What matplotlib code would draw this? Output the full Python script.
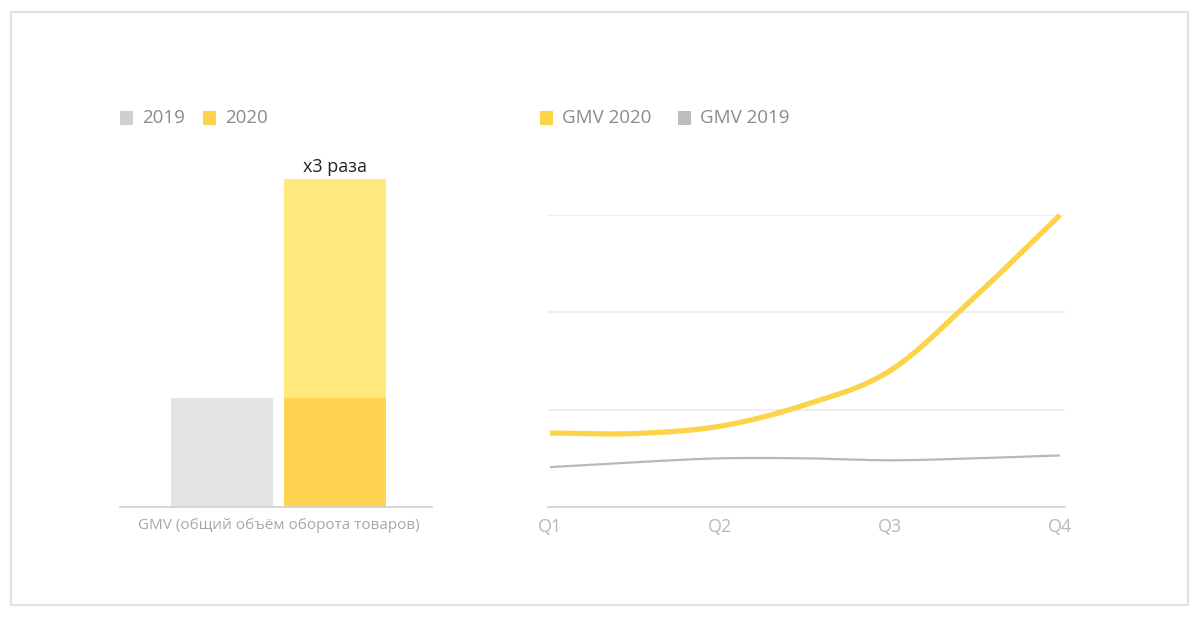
import numpy as np
import matplotlib
matplotlib.use("Agg")
import matplotlib.pyplot as plt
from matplotlib.patches import Rectangle

plt.rcParams['font.family'] = ['Open Sans', 'DejaVu Sans']

# left panel: GMV by year (2019 = 1)
bar_years = ['2019', '2020']
gmv_2019_total = 1.0
gmv_2020_total = 3.0
bar_label = 'x3 раза'
bar_category = 'GMV (общий объём оборота товаров)'

# right panel: quarterly GMV, read at half-quarter steps
quarter_pos = [0, 0.5, 1, 1.5, 2, 2.5, 3]
quarter_labels = ['Q1', 'Q2', 'Q3', 'Q4']
gmv_2020_q = [0.76, 0.755, 0.83, 1.05, 1.40, 2.16, 3.0]
gmv_2019_q = [0.41, 0.46, 0.50, 0.50, 0.48, 0.50, 0.53]

GRAY_BAR = '#e3e3e3'
YELLOW_DARK = '#fed352'
YELLOW_LIGHT = '#ffe97e'
YELLOW_LINE = '#fdd34a'
GRAY_LINE = '#b9b9b9'
TEXT_GRAY = '#8a8a8a'
TICK_GRAY = '#b8b8b8'


def smooth(x, y, n=300):
    # cubic hermite curve through the read points (only for drawing)
    x = np.asarray(x, float)
    y = np.asarray(y, float)
    m = np.gradient(y, x)
    xs, ys = [], []
    for i in range(len(x) - 1):
        h = x[i + 1] - x[i]
        t = np.linspace(0, 1, n // (len(x) - 1), endpoint=False)
        h00 = 2 * t**3 - 3 * t**2 + 1
        h10 = t**3 - 2 * t**2 + t
        h01 = -2 * t**3 + 3 * t**2
        h11 = t**3 - t**2
        xs.append(x[i] + t * h)
        ys.append(h00 * y[i] + h10 * h * m[i] + h01 * y[i + 1] + h11 * h * m[i + 1])
    xs.append([x[-1]])
    ys.append([y[-1]])
    return np.concatenate(xs), np.concatenate(ys)


W, H = 1200, 618
fig = plt.figure(figsize=(12, 6.18), dpi=100)
fig.patch.set_facecolor('white')

# card frame
fig.patches.append(Rectangle((11 / W, 1 - 605 / H), 1177 / W, 593 / H,
                             transform=fig.transFigure, fill=False,
                             edgecolor='#e2e2e2', lw=1.5))


def legend_item(x_px, y_px, color, label):
    fig.patches.append(Rectangle((x_px / W, 1 - (y_px + 6.5) / H), 13 / W, 13 / H,
                                 transform=fig.transFigure, color=color, lw=0))
    fig.text((x_px + 22) / W, 1 - y_px / H, label, fontsize=13.5,
             color=TEXT_GRAY, va='center', ha='left')


# ---- left: bars
ax1 = fig.add_axes([120 / W, 1 - 507 / H, 312 / W, 357 / H])
x = np.arange(len(bar_years))
ax1.bar(x[0], gmv_2019_total, width=0.9, color=GRAY_BAR)
ax1.bar(x[1], gmv_2019_total, width=0.9, color=YELLOW_DARK)
ax1.bar(x[1], gmv_2020_total - gmv_2019_total, bottom=gmv_2019_total,
        width=0.9, color=YELLOW_LIGHT)
ax1.annotate(bar_label, (x[1], gmv_2020_total), xytext=(0, 2),
             textcoords='offset points', ha='center', va='bottom',
             fontsize=13, color='#222222')
ax1.set_xlim(-0.903, 1.858)
ax1.set_ylim(0, 357 / 109.5)
ax1.set_xticks([0.5])
ax1.set_xticklabels([bar_category], fontsize=11, color='#a8a8a8')
ax1.set_yticks([])
ax1.tick_params(axis='x', length=0, pad=8)
for s in ['top', 'right', 'left']:
    ax1.spines[s].set_visible(False)
ax1.spines['bottom'].set_color('#cfcfcf')
ax1.spines['bottom'].set_linewidth(1.2)

legend_item(120, 118, '#cfcfcf', bar_years[0])
legend_item(203, 118, '#fdd34a', bar_years[1])

# ---- right: quarterly lines
ax2 = fig.add_axes([548 / W, 1 - 507 / H, 517 / W, 292 / H])
ax2.set_xlim(-2 / 170, 3 + 5 / 170)
ax2.set_ylim(0, 3)
for g in [1, 2, 3]:
    ax2.axhline(g, color='#ececec', lw=1.2, zorder=0)
sx, sy = smooth(quarter_pos, gmv_2019_q)
ax2.plot(sx, sy, color=GRAY_LINE, lw=1.6, solid_capstyle='butt', clip_on=False)
sx, sy = smooth(quarter_pos, gmv_2020_q)
ax2.plot(sx, sy, color=YELLOW_LINE, lw=3.8, solid_capstyle='butt', clip_on=False)
ax2.set_xticks(range(len(quarter_labels)))
ax2.set_xticklabels(quarter_labels, fontsize=13, color=TICK_GRAY)
ax2.set_yticks([])
ax2.tick_params(axis='x', length=0, pad=8)
for s in ['top', 'right', 'left']:
    ax2.spines[s].set_visible(False)
ax2.spines['bottom'].set_color('#cfcfcf')
ax2.spines['bottom'].set_linewidth(1.2)

legend_item(540, 118, '#fdd34a', 'GMV 2020')
legend_item(678, 118, '#bdbdbd', 'GMV 2019')

fig.savefig('out.png', dpi=100, facecolor='white')
